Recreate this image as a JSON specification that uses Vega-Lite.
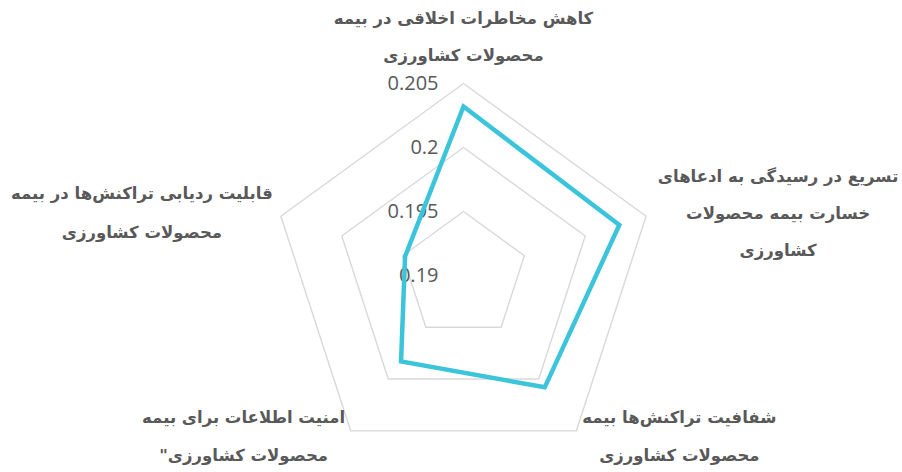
{
  "$schema": "https://vega.github.io/schema/vega-lite/v6.json",
  "width": 902,
  "height": 472,
  "autosize": {"type": "none"},
  "padding": 0,
  "background": "white",
  "config": {"view": {"stroke": null}},
  "datasets": {
    "scores": [
      {"idx": 0, "category": "کاهش مخاطرات اخلاقی در بیمه\nمحصولات کشاورزی", "value": 0.2032},
      {"idx": 1, "category": "تسریع در رسیدگی به ادعاهای\nخسارت بیمه محصولات\nکشاورزی", "value": 0.2028},
      {"idx": 2, "category": "شفافیت تراکنش\u200cها بیمه\nمحصولات کشاورزی", "value": 0.2008},
      {"idx": 3, "category": "امنیت اطلاعات برای بیمه\nمحصولات کشاورزی\"\u200f", "value": 0.1983},
      {"idx": 4, "category": "قابلیت ردیابی تراکنش\u200cها در بیمه\nمحصولات کشاورزی", "value": 0.1948}
    ],
    "grid": [
      {"level": 0.195, "idx": 0}, {"level": 0.195, "idx": 1}, {"level": 0.195, "idx": 2}, {"level": 0.195, "idx": 3}, {"level": 0.195, "idx": 4},
      {"level": 0.2, "idx": 0}, {"level": 0.2, "idx": 1}, {"level": 0.2, "idx": 2}, {"level": 0.2, "idx": 3}, {"level": 0.2, "idx": 4},
      {"level": 0.205, "idx": 0}, {"level": 0.205, "idx": 1}, {"level": 0.205, "idx": 2}, {"level": 0.205, "idx": 3}, {"level": 0.205, "idx": 4}
    ],
    "ticks": [{"level": 0.19}, {"level": 0.195}, {"level": 0.2}, {"level": 0.205}]
  },
  "encoding": {
    "x": {"field": "px", "type": "quantitative", "scale": {"domain": [-2.41406, 2.28385], "nice": false, "zero": false}, "axis": null},
    "y": {"field": "py", "type": "quantitative", "scale": {"domain": [-1.02344, 1.4349], "nice": false, "zero": false}, "axis": null}
  },
  "layer": [
    {
      "data": {"name": "grid"},
      "transform": [
        {"calculate": "datum.idx * 2 * PI / 5", "as": "theta"},
        {"calculate": "(datum.level - 0.19) / 0.015", "as": "r"},
        {"calculate": "datum.r * sin(datum.theta)", "as": "px"},
        {"calculate": "datum.r * cos(datum.theta)", "as": "py"}
      ],
      "mark": {"type": "line", "interpolate": "linear-closed", "color": "#D9D9D9", "strokeWidth": 1.4},
      "encoding": {"detail": {"field": "level"}, "order": {"field": "idx", "type": "quantitative"}}
    },
    {
      "data": {"name": "ticks"},
      "transform": [
        {"calculate": "0", "as": "px"},
        {"calculate": "(datum.level - 0.19) / 0.015", "as": "py"}
      ],
      "mark": {"type": "text", "align": "right", "baseline": "middle", "dx": -25, "font": "Open Sans", "fontSize": 20, "color": "#595959"},
      "encoding": {"text": {"field": "level", "type": "quantitative", "format": ".3~f"}}
    },
    {
      "data": {"name": "scores"},
      "transform": [
        {"calculate": "datum.idx * 2 * PI / 5", "as": "theta"},
        {"calculate": "(datum.value - 0.19) / 0.015", "as": "r"},
        {"calculate": "datum.r * sin(datum.theta)", "as": "px"},
        {"calculate": "datum.r * cos(datum.theta)", "as": "py"}
      ],
      "mark": {"type": "line", "interpolate": "linear-closed", "color": "#3BC4DA", "strokeWidth": 4.5, "strokeJoin": "miter"},
      "encoding": {"order": {"field": "idx", "type": "quantitative"}}
    },
    {
      "data": {"name": "scores"},
      "transform": [
        {"filter": "datum.idx == 0"},
        {"calculate": "sin(datum.idx * 2 * PI / 5)", "as": "px"},
        {"calculate": "cos(datum.idx * 2 * PI / 5)", "as": "py"}
      ],
      "mark": {"type": "text", "align": "center", "baseline": "middle", "dx": 0, "dy": -65, "font": "DejaVu Sans", "fontWeight": "bold", "fontSize": 16.5, "color": "#595959", "lineBreak": "\n", "lineHeight": 37, "dir": "rtl"},
      "encoding": {"text": {"field": "category"}}
    },
    {
      "data": {"name": "scores"},
      "transform": [
        {"filter": "datum.idx == 1"},
        {"calculate": "sin(datum.idx * 2 * PI / 5)", "as": "px"},
        {"calculate": "cos(datum.idx * 2 * PI / 5)", "as": "py"}
      ],
      "mark": {"type": "text", "align": "center", "baseline": "middle", "dx": 132, "dy": -39, "font": "DejaVu Sans", "fontWeight": "bold", "fontSize": 16.5, "color": "#595959", "lineBreak": "\n", "lineHeight": 37, "dir": "rtl"},
      "encoding": {"text": {"field": "category"}}
    },
    {
      "data": {"name": "scores"},
      "transform": [
        {"filter": "datum.idx == 2"},
        {"calculate": "sin(datum.idx * 2 * PI / 5)", "as": "px"},
        {"calculate": "cos(datum.idx * 2 * PI / 5)", "as": "py"}
      ],
      "mark": {"type": "text", "align": "center", "baseline": "middle", "dx": 103, "dy": -13, "font": "DejaVu Sans", "fontWeight": "bold", "fontSize": 16.5, "color": "#595959", "lineBreak": "\n", "lineHeight": 38, "dir": "rtl"},
      "encoding": {"text": {"field": "category"}}
    },
    {
      "data": {"name": "scores"},
      "transform": [
        {"filter": "datum.idx == 3"},
        {"calculate": "sin(datum.idx * 2 * PI / 5)", "as": "px"},
        {"calculate": "cos(datum.idx * 2 * PI / 5)", "as": "py"}
      ],
      "mark": {"type": "text", "align": "center", "baseline": "middle", "dx": -107, "dy": -13, "font": "DejaVu Sans", "fontWeight": "bold", "fontSize": 16.5, "color": "#595959", "lineBreak": "\n", "lineHeight": 38, "dir": "rtl"},
      "encoding": {"text": {"field": "category"}}
    },
    {
      "data": {"name": "scores"},
      "transform": [
        {"filter": "datum.idx == 4"},
        {"calculate": "sin(datum.idx * 2 * PI / 5)", "as": "px"},
        {"calculate": "cos(datum.idx * 2 * PI / 5)", "as": "py"}
      ],
      "mark": {"type": "text", "align": "center", "baseline": "middle", "dx": -139, "dy": -22, "font": "DejaVu Sans", "fontWeight": "bold", "fontSize": 16.5, "color": "#595959", "lineBreak": "\n", "lineHeight": 39, "dir": "rtl"},
      "encoding": {"text": {"field": "category"}}
    }
  ]
}
